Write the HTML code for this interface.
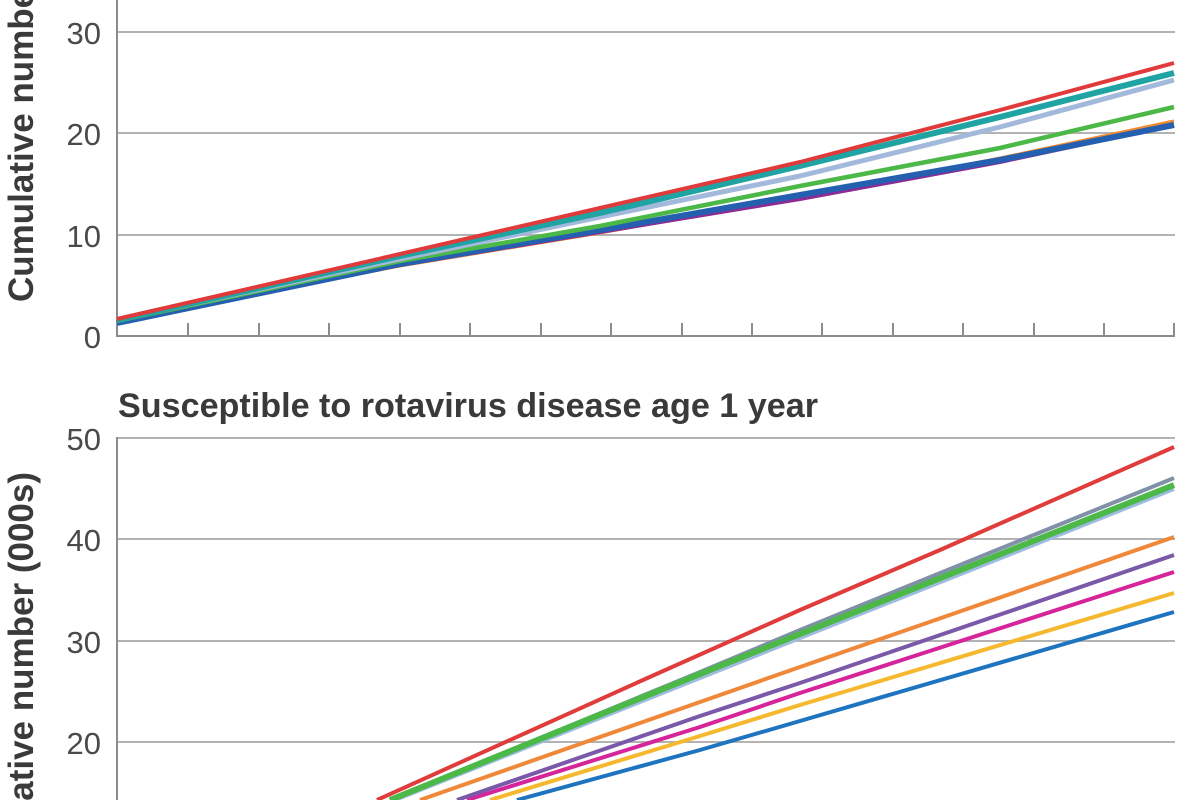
<!DOCTYPE html>
<html><head><meta charset="utf-8"><style>
html,body{margin:0;padding:0;background:#fff;width:1200px;height:800px;overflow:hidden;}
svg{display:block;overflow:hidden;}
</style></head><body>
<svg width="1200" height="800" viewBox="0 0 1200 800" xmlns="http://www.w3.org/2000/svg">
<rect width="1200" height="800" fill="#fff"/>
<!-- TOP CHART -->
<g stroke="#b3b3b3" stroke-width="2">
<line x1="117" y1="32" x2="1175" y2="32"/>
<line x1="117" y1="133" x2="1175" y2="133"/>
<line x1="117" y1="235" x2="1175" y2="235"/>
</g>
<g stroke="#8c8c8c" stroke-width="2" fill="none">
<line x1="117" y1="0" x2="117" y2="337"/>
<line x1="116" y1="336" x2="1175" y2="336"/>
<path d="M188 336V323M259 336V323M329 336V323M400 336V323M470 336V323M541 336V323M611 336V323M682 336V323M752 336V323M822 336V323M893 336V323M963 336V323M1034 336V323M1104 336V323M1174 336V323"/>
</g>
<g font-family="Liberation Sans, sans-serif" font-size="31" fill="#4a4a4a" text-anchor="end">
<text x="101" y="44">30</text>
<text x="101" y="145">20</text>
<text x="101" y="247">10</text>
<text x="101" y="348">0</text>
</g>
<text transform="translate(33,302) rotate(-90)" font-family="Liberation Sans, sans-serif" font-weight="bold" font-size="35" fill="#3a3a3a">Cumulative numbe</text>
<g fill="none" stroke-linejoin="round" stroke-linecap="butt">
<polyline stroke="#f08a2c" stroke-width="3" points="117,320 400,266 600,233 800,197 1000,158 1174,121"/>
<polyline stroke="#8c2a96" stroke-width="4" points="117,322 400,265 600,232 800,199 1000,162 1174,125"/>
<polyline stroke="#2560b0" stroke-width="6" points="117,323 400,264 600,230 800,195 1000,160 1174,125"/>
<polyline stroke="#4cb848" stroke-width="4.5" points="117,321 400,261 600,226 800,186 1000,148 1174,107"/>
<polyline stroke="#a3b9dc" stroke-width="5" points="117,320 400,259 600,217 800,176 1000,127 1174,80"/>
<polyline stroke="#20a3a3" stroke-width="6" points="117,320 400,256 600,213 800,166 1000,117 1174,73"/>
<polyline stroke="#e03a3a" stroke-width="4" points="117,319 400,254 600,208 800,162 1000,110 1174,63"/>
</g>
<!-- BOTTOM CHART -->
<text x="118" y="417" font-family="Liberation Sans, sans-serif" font-weight="bold" font-size="34" fill="#3a3a3a" textLength="700" lengthAdjust="spacingAndGlyphs">Susceptible to rotavirus disease age 1 year</text>
<g stroke="#b3b3b3" stroke-width="2">
<line x1="117" y1="438" x2="1175" y2="438"/>
<line x1="117" y1="539" x2="1175" y2="539"/>
<line x1="117" y1="641" x2="1175" y2="641"/>
<line x1="117" y1="742" x2="1175" y2="742"/>
</g>
<line x1="117" y1="437" x2="117" y2="800" stroke="#8c8c8c" stroke-width="2"/>
<g font-family="Liberation Sans, sans-serif" font-size="31" fill="#4a4a4a" text-anchor="end">
<text x="101" y="450">50</text>
<text x="101" y="551">40</text>
<text x="101" y="653">30</text>
<text x="101" y="754">20</text>
</g>
<text transform="translate(33,472) rotate(-90)" text-anchor="end" font-family="Liberation Sans, sans-serif" font-weight="bold" font-size="35" fill="#3a3a3a">ative number (000s)</text>
<g fill="none" stroke-linejoin="round">
<polyline stroke="#1f74c0" stroke-width="4" points="517,800 700,750 800,721 1174,612"/>
<polyline stroke="#f5b82e" stroke-width="4" points="490,800 700,736 800,705 1174,593"/>
<polyline stroke="#d6249a" stroke-width="4" points="467,800 700,727 800,693 1174,572"/>
<polyline stroke="#7a5aa8" stroke-width="4" points="457,800 700,716 800,683 1174,555"/>
<polyline stroke="#f0883a" stroke-width="4" points="420,800 700,702 800,667 1174,537"/>
<polyline stroke="#9fbbe0" stroke-width="4" points="395,800 700,678 800,638 1174,489"/>
<polyline stroke="#8090a8" stroke-width="4" points="390,800 700,672 800,630 1174,478"/>
<polyline stroke="#4cb848" stroke-width="6" points="390,800 700,674 800,634 1174,485"/>
<polyline stroke="#e03c3c" stroke-width="4" points="377,800 643,680 800,610 940,550 1174,447"/>
</g>
</svg>
</body></html>
